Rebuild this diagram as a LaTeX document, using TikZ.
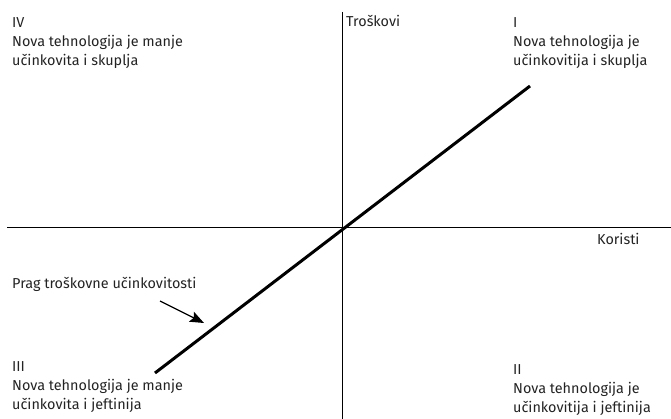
\documentclass[tikz,border=0pt]{standalone}
\usepackage{fontspec}
\setmainfont{Fira Sans}
\usetikzlibrary{arrows.meta, positioning}
\definecolor{ink}{RGB}{35, 35, 35}

\begin{document}
\begin{tikzpicture}[x=1pt, y=-1pt,
    quad/.style={anchor=base west, inner sep=0pt, align=left, text=ink,
      font=\fontsize{14.4}{19}\selectfont},
    axlabel/.style={anchor=base west, inner sep=0pt, text=ink,
      font=\fontsize{14.4}{19}\selectfont}]
          \useasboundingbox (0,0) rectangle (671,419);
          % axes
          \coordinate (xl) at (7,228);
          \coordinate (xr) at (671,228);
          \coordinate (yt) at (342.5,12);
          \coordinate (yb) at (342.5,419);
          \draw[line width=1pt] (xl) -- (xr);
          \draw[line width=1pt] (yt) -- (yb);
          \node[axlabel] (troskovi) at (346,27) {Troškovi};
          \node[axlabel] (koristi) at (597,245) {Koristi};
          % quadrants (base = last line)
          \node[quad] (q4) at (12,66) {IV\\Nova tehnologija je manje\\učinkovita i skuplja};
          \node[quad] (q1) at (513,66) {I\\Nova tehnologija je\\učinkovitija i skuplja};
          \node[quad] (q3) at (12,409) {III\\Nova tehnologija je manje\\učinkovita i jeftinija};
          \node[quad] (q2) at (513,412) {II\\Nova tehnologija je\\učinkovitija i jeftinija};
          % threshold line
          \coordinate (lo) at (155,373);
          \coordinate (hi) at (530,86);
          \draw[line width=3pt] (lo) -- (hi);
          \node[axlabel] (prag) at (12,288) {Prag troškovne učinkovitosti};
          \coordinate (pragfrom) at (160,301);
          \coordinate (pragto) at (204,323);
          \draw[line width=1.3pt, -{Stealth[length=14pt, width=11pt, inset=2.5pt]}] (pragfrom) -- (pragto);
        \end{tikzpicture}
\end{document}
